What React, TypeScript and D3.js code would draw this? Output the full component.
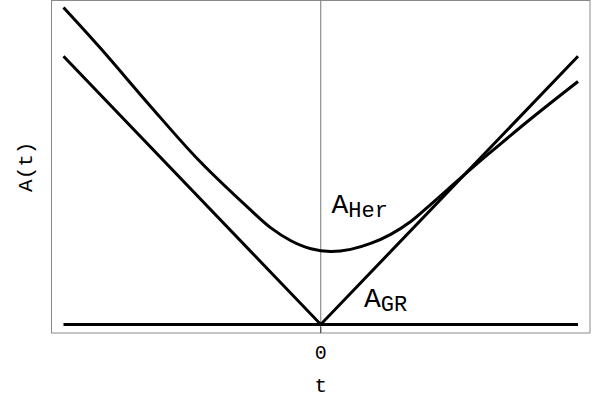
import React, { useEffect, useRef } from 'react';
import * as d3 from 'd3';

// curve readings (t, A) taken off the plot
const herT = [-5, -4.28, -3.31, -2.37, -1.36, -0.97, -0.58, -0.19, 0.19, 0.58, 0.97, 1.36, 1.75, 2.14, 2.47, 2.86, 3.25, 4.09, 5];
const herA = [5.91, 5.15, 4.07, 3.06, 2.13, 1.80, 1.56, 1.41, 1.36, 1.40, 1.51, 1.68, 1.92, 2.24, 2.52, 2.85, 3.17, 3.84, 4.53];
const grT = [-5, 0, 5];
const grA = [5, 0, 5];
const baseT = [-5, 5];
const baseA = [0, 0];
const xTicks = [0];
const labels = [
  { name: 'A', sub: 'Her', t: 0.21, a: 2.07 },
  { name: 'A', sub: 'GR', t: 0.84, a: 0.32 },
];

const W = 605, H = 402;
const FONT = '"Liberation Mono", "DejaVu Sans Mono", monospace';

const App = () => {
  const svgRef = useRef<SVGSVGElement>(null);

  useEffect(() => {
    const svg = d3.select(svgRef.current);
    svg.selectAll('*').remove();

    const frame = { left: 51.5, right: 590, top: 0.5, bottom: 333 };

    const x = d3.scaleLinear().domain([-5.233, 5.233]).range([frame.left, frame.right]);
    const y = d3.scaleLinear().domain([-0.16, 6.05]).range([frame.bottom, 0]);

    // frame
    svg.append('rect')
      .attr('x', frame.left).attr('y', frame.top)
      .attr('width', frame.right - frame.left).attr('height', frame.bottom - frame.top)
      .attr('fill', 'none').attr('stroke', '#8a8a8a').attr('stroke-width', 1);

    // axis at t = 0
    svg.append('line')
      .attr('x1', x(0)).attr('x2', x(0))
      .attr('y1', frame.top).attr('y2', frame.bottom)
      .attr('stroke', '#777').attr('stroke-width', 1);

    // bottom ticks
    const ticks = svg.append('g');
    ticks.selectAll('line')
      .data(xTicks)
      .join('line')
      .attr('x1', d => x(d)).attr('x2', d => x(d))
      .attr('y1', frame.bottom - 6).attr('y2', frame.bottom)
      .attr('stroke', '#444').attr('stroke-width', 1);
    ticks.selectAll('text')
      .data(xTicks)
      .join('text')
      .attr('x', d => x(d)).attr('y', 359)
      .attr('text-anchor', 'middle')
      .attr('font-family', FONT).attr('font-size', 20)
      .text(d => String(d));

    const line = d3.line<[number, number]>()
      .x(d => x(d[0]))
      .y(d => y(d[1]));

    const series = [
      { pts: baseT.map((t, i) => [t, baseA[i]] as [number, number]), curve: d3.curveLinear },
      { pts: grT.map((t, i) => [t, grA[i]] as [number, number]), curve: d3.curveLinear },
      { pts: herT.map((t, i) => [t, herA[i]] as [number, number]), curve: d3.curveCatmullRom.alpha(0.5) },
    ];

    svg.append('g')
      .selectAll('path')
      .data(series)
      .join('path')
      .attr('d', s => line.curve(s.curve)(s.pts))
      .attr('fill', 'none')
      .attr('stroke', '#000')
      .attr('stroke-width', 3);

    // curve labels
    const lab = svg.append('g')
      .selectAll('text')
      .data(labels)
      .join('text')
      .attr('x', d => x(d.t)).attr('y', d => y(d.a))
      .attr('font-family', FONT);
    lab.append('tspan').attr('font-size', 28).text(d => d.name);
    lab.append('tspan').attr('font-size', 22).attr('dy', 4).text(d => d.sub);

    // axis labels
    svg.append('text')
      .attr('x', x(0)).attr('y', 392)
      .attr('text-anchor', 'middle')
      .attr('font-family', FONT).attr('font-size', 21)
      .text('t');
    svg.append('text')
      .attr('transform', `translate(32,${(frame.top + frame.bottom) / 2}) rotate(-90)`)
      .attr('text-anchor', 'middle')
      .attr('font-family', FONT).attr('font-size', 21)
      .text('A(t)');
  }, []);

  return (
    <div style={{ position: 'fixed', left: 0, top: 0 }}>
      <svg ref={svgRef} width={W} height={H} style={{ display: 'block', background: '#fff' }} />
    </div>
  );
};

export default App;
